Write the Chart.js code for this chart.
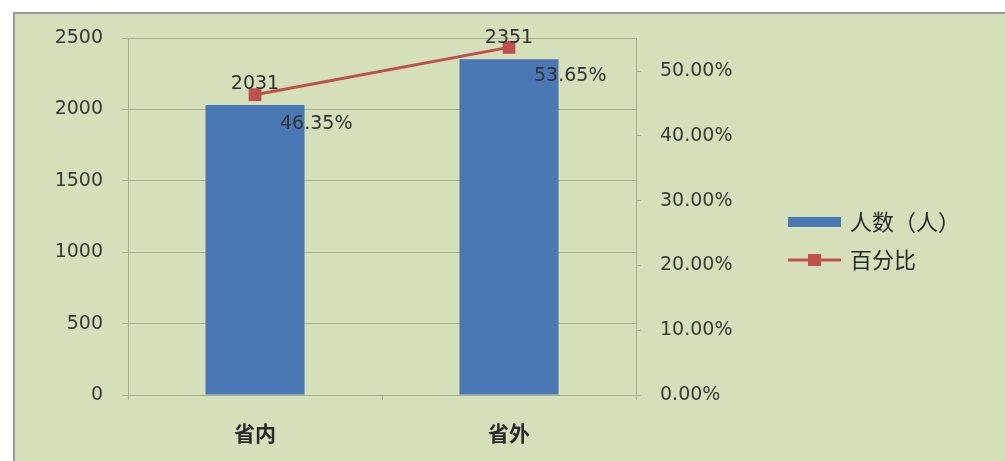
<!DOCTYPE html>
<html>
<head>
<meta charset="utf-8">
<script src="https://cdn.jsdelivr.net/npm/chart.js@4"></script>
<style>
    body { margin: 0; background: #fff; overflow: hidden; }
    #frame {
        position: absolute; left: 13px; top: 12px; width: 1100px; height: 600px;
        background: #d5dfba; border: 2px solid #9a9a9a;
    }
    #wrap { position: absolute; left: 0; top: 0; width: 1005px; height: 461px; }
</style>
</head>
<body>
<div id="frame"></div>
<div id="wrap"><canvas id="chart" width="1005" height="461"></canvas></div>
<script>
// ---- данные ----
const categories = ["省内", "省外"];
const people = [2031, 2351];
const percent = [0.4635, 0.5365];
const seriesNames = ["人数（人）", "百分比"];

const barColor = "#4a78b4";
const lineColor = "#c0504d";
const gridColor = "#a5b08f";
const textColor = "#3a3a36";

// подписи значений (как в Excel)
const valueLabels = {
    id: "valueLabels",
    afterDatasetsDraw(chart) {
        const ctx = chart.ctx;
        ctx.save();
        ctx.font = "19px 'DejaVu Sans'";
        ctx.fillStyle = "#333";
        ctx.textBaseline = "middle";
        // числа над столбцами
        chart.getDatasetMeta(1).data.forEach((bar, i) => {
            ctx.textAlign = "center";
            ctx.fillText(String(people[i]), bar.x, bar.y - 21);
        });
        // проценты справа снизу от точки
        chart.getDatasetMeta(0).data.forEach((pt, i) => {
            ctx.textAlign = "left";
            ctx.fillText((percent[i] * 100).toFixed(2) + "%", pt.x + 25, pt.y + 29);
        });
        ctx.restore();
    }
};

// легенда справа
const sideLegend = {
    id: "sideLegend",
    afterDraw(chart) {
        const ctx = chart.ctx;
        ctx.save();
        ctx.fillStyle = barColor;
        ctx.fillRect(788, 217, 53, 10);
        ctx.strokeStyle = lineColor;
        ctx.lineWidth = 3;
        ctx.beginPath();
        ctx.moveTo(788, 260);
        ctx.lineTo(841, 260);
        ctx.stroke();
        ctx.fillStyle = lineColor;
        ctx.fillRect(808, 254, 13, 12);
        ctx.font = "22px 'Noto Sans CJK SC'";
        ctx.fillStyle = "#2a2a2a";
        ctx.textAlign = "left";
        ctx.textBaseline = "middle";
        ctx.fillText(seriesNames[0], 850, 222);
        ctx.fillText(seriesNames[1], 850, 260);
        ctx.restore();
    }
};

new Chart(document.getElementById("chart"), {
    data: {
        labels: categories,
        datasets: [
            {
                type: "line",
                label: seriesNames[1],
                data: percent,
                yAxisID: "y2",
                borderColor: lineColor,
                borderWidth: 3,
                pointStyle: "rect",
                pointRadius: 9,
                pointBackgroundColor: lineColor,
                pointBorderWidth: 0,
                order: 0
            },
            {
                type: "bar",
                label: seriesNames[0],
                data: people,
                yAxisID: "y",
                backgroundColor: barColor,
                categoryPercentage: 1,
                barPercentage: 0.39,
                order: 1
            }
        ]
    },
    options: {
        responsive: false,
        animation: false,
        layout: { padding: { top: 38, right: 249, left: 0, bottom: 0 } },
        plugins: { legend: { display: false }, tooltip: { enabled: false } },
        scales: {
            x: {
                offset: true,
                grid: { display: true, drawOnChartArea: false, offset: true, tickLength: 5, color: gridColor },
                border: { display: false },
                ticks: { color: "#2a2a2a", font: { family: "'Noto Sans CJK SC'", size: 21, weight: "bold" }, padding: 20 },
                afterFit: s => { s.height = 66; }
            },
            y: {
                position: "left",
                min: 0,
                max: 2500,
                ticks: {
                    stepSize: 500,
                    color: textColor,
                    font: { family: "'DejaVu Sans'", size: 19 },
                    padding: 19,
                    callback: v => String(v)
                },
                grid: { color: gridColor, tickLength: 6 },
                border: { color: gridColor },
                afterFit: s => { s.width = 128; }
            },
            y2: {
                position: "right",
                min: 0,
                max: 0.551,
                ticks: {
                    stepSize: 0.1,
                    color: textColor,
                    font: { family: "'DejaVu Sans'", size: 19 },
                    padding: 19,
                    callback: v => (v * 100).toFixed(2) + "%"
                },
                afterBuildTicks: s => {
                    s.ticks = s.ticks.filter(t => Math.abs(t.value * 10 - Math.round(t.value * 10)) < 1e-6);
                },
                grid: { drawOnChartArea: false, color: gridColor, tickLength: 5 },
                border: { color: gridColor },
                afterFit: s => { s.width = 120; }
            }
        }
    },
    plugins: [valueLabels, sideLegend]
});
</script>
</body>
</html>
